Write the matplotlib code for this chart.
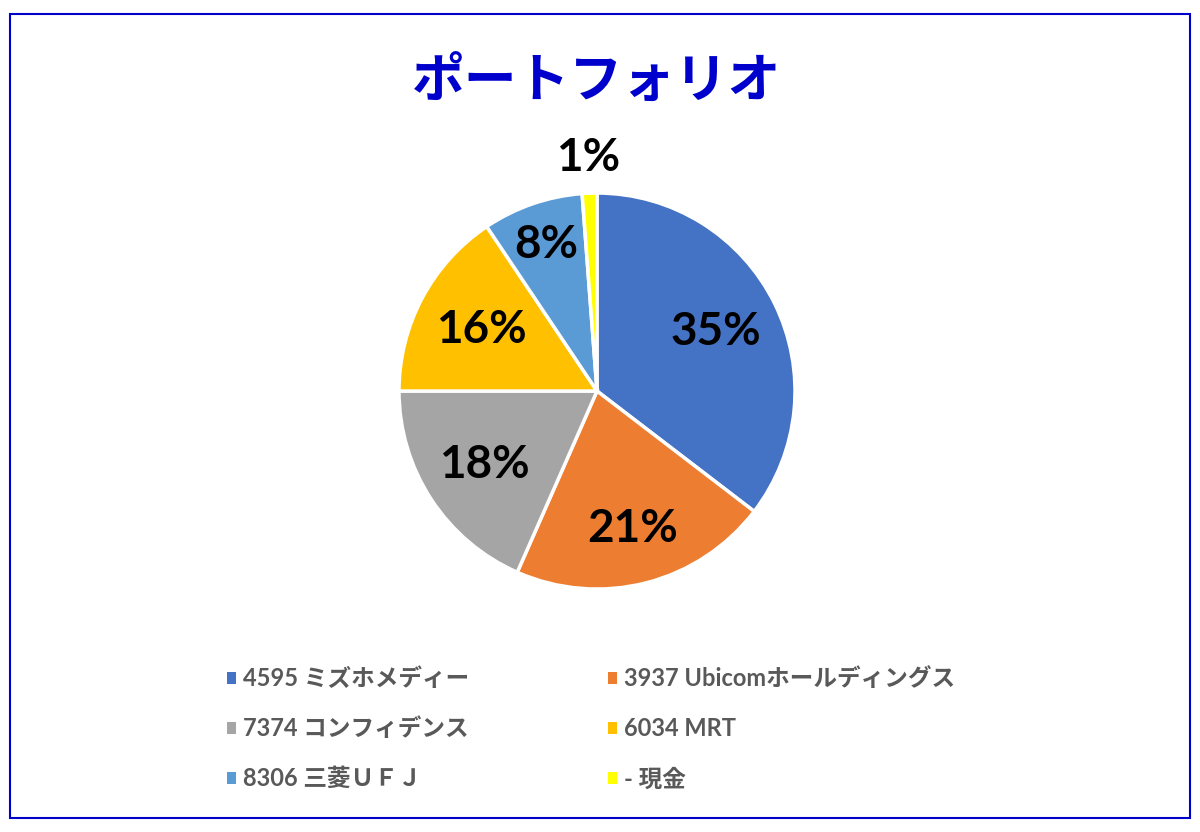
import numpy as np
import matplotlib.pyplot as plt
from matplotlib.patches import Rectangle

# portfolio data
labels = ['4595 ミズホメディー', '3937 Ubicomホールディングス', '7374 コンフィデンス',
          '6034 MRT', '8306 三菱ＵＦＪ', '- 現金']
shares = [35.4, 21.2, 18.4, 15.6, 8.2, 1.2]
colors = ['#4472C4', '#ED7D31', '#A5A5A5', '#FFC000', '#5B9BD5', '#FFFF00']
# radial position of each percentage label (fraction of radius)
labelDist = [0.67, 0.72, 0.68, 0.66, 0.78, 1.18]

fontList = ['Lato', 'Noto Sans CJK JP', 'DejaVu Sans']
plt.rcParams['font.family'] = fontList

fig = plt.figure(figsize=(12, 8.32), dpi=100)
fig.patches.append(Rectangle((10 / 1200, 14 / 832), 1180 / 1200, 804 / 832,
                             transform=fig.transFigure, fill=False,
                             edgecolor='#0000CC', linewidth=1.5))

ax = fig.add_axes([0.3325, 0.292, 0.33, 0.476])
wedges, _ = ax.pie(shares, colors=colors, startangle=90, counterclock=False,
                   wedgeprops={'edgecolor': 'white', 'linewidth': 2.5})
ax.set_xlim(-1, 1)
ax.set_ylim(-1, 1)
ax.set_aspect('equal')

for w, val, d in zip(wedges, shares, labelDist):
    mid = np.deg2rad((w.theta1 + w.theta2) / 2)
    ax.text(d * np.cos(mid), d * np.sin(mid), '%d%%' % round(val),
            ha='center', va='center', fontsize=33, fontweight='bold',
            color='black', clip_on=False)

fig.text(0.4975, 0.902, 'ポートフォリオ', ha='center', va='center',
         fontsize=38, fontweight='bold', color='#0000CC',
         family=['Noto Sans CJK JP', 'DejaVu Sans'])

# legend is filled row by row in the reference
order = [0, 2, 4, 1, 3, 5]
leg = fig.legend([wedges[i] for i in order], [labels[i] for i in order],
                 loc='upper left', bbox_to_anchor=(0.179, 0.2125),
                 ncol=2, frameon=False, borderpad=0, handlelength=0.4,
                 handleheight=0.4, handletextpad=0.3, columnspacing=5.85,
                 labelspacing=1.15,
                 prop={'family': fontList, 'weight': 'bold', 'size': 17})
for t in leg.get_texts():
    t.set_color('#595959')
for h in leg.legend_handles:
    h.set_edgecolor('none')

fig.savefig('out.png', dpi=100)
